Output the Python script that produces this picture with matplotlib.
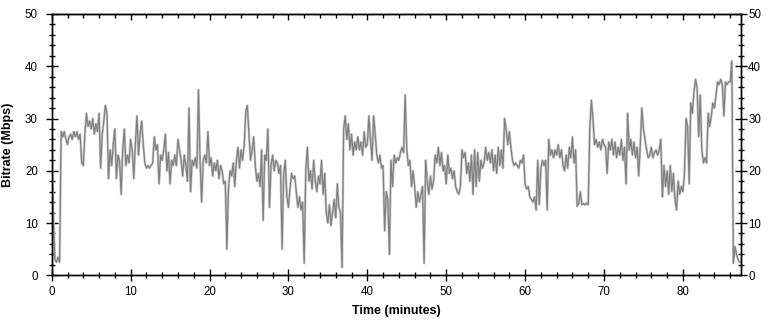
import numpy as np
import matplotlib
matplotlib.use("Agg")
import matplotlib.pyplot as plt
from matplotlib.ticker import MultipleLocator

plt.rcParams['font.family'] = ['Liberation Sans', 'DejaVu Sans']

# bitrate samples (Mbps), one every 0.2 minutes
step = 0.2
bitrate_0_19 = [
    26, 12, 3, 2.5, 3.5,  2.5, 27.5, 26.5, 27.5, 26,
    25, 26.5, 27, 26, 27.5,  26.5, 27.5, 26, 27, 21.5,
    21, 27, 31, 28.5, 29.5,  28, 30, 27, 29, 27.5,
    31, 20.5, 27, 29.5, 32.5,  31, 18.5, 24, 21, 25,
    28, 18.5, 23, 22, 15.5,  24, 28, 21, 23, 21.5,
    26, 24, 18.5, 25, 30.5,  23, 27, 29.5, 25, 21.5,
    20.5, 21, 20.5, 21, 21.5,  26.5, 24, 25, 17.5, 23,
    22, 24, 27, 20, 23.5,  17.5, 22, 21, 23, 21,
    26, 24, 22, 19, 23,  21, 18, 32, 16, 22,
    21, 22.5, 20.5, 35.5, 22,  14, 22, 23, 21.5, 27.5,
]
bitrate_20_39 = [
    21, 22.5, 19, 21.5, 20,  22, 18.5, 21, 20, 17.5,
    18, 5, 16.5, 20, 19,  21.5, 17, 22, 24.5, 20.5,
    24, 22, 25, 31.5, 32.5,  27, 22, 24, 26.5, 21,
    18, 19.5, 17, 24, 10.5,  23, 22, 28, 13, 21,
    23, 20, 22, 21.5, 19.5,  21, 5, 19.5, 22, 15,
    13, 16.5, 19.5, 18.5, 19,  16, 13, 15, 12.5, 14,
    2.3, 20, 24.5, 18, 20,  16.5, 22, 18, 16, 19,
    17.5, 22, 15.5, 19.5, 12,  10, 13.5, 9.5, 12, 14.5,
    11, 17.5, 13, 12, 1.5,  28, 30.5, 26, 29, 24,
    27, 23, 25.5, 24, 26.5,  24, 25.5, 23, 27.5, 24.5,
]
bitrate_40_59 = [
    25, 30.5, 26, 22, 30.5,  27, 23, 21.5, 23, 20.5,
    21, 8.5, 16, 14.5, 4,  22, 17, 23, 21.5, 22.5,
    22, 23.5, 24.5, 23.5, 34.5,  24, 21, 22, 17, 20,
    17, 13, 16, 14, 15.5,  17, 2.3, 22, 18, 15.5,
    19, 16.5, 18, 23, 21.5,  24.5, 21, 23.5, 20, 21,
    17.5, 23, 19.5, 20.5, 18.5,  20, 17, 16, 15.5, 17,
    24, 22.5, 23.5, 19.5, 21.5,  18, 23, 15.5, 24, 17,
    23.5, 18, 22, 20.5, 21.5,  24.5, 22, 23.5, 21.5, 24,
    20, 23, 19.5, 24.5, 21,  24, 20.5, 30, 28, 25,
    27.5, 24.5, 22, 21, 21.5,  21, 20.5, 22, 21.5, 23,
]
bitrate_60_end = [
    17.5, 16.5, 17, 15, 14.5,  14, 15, 12.5, 22, 13.5,
    20.5, 22, 21, 22, 12.5,  26, 23, 24, 22.5, 24,
    23, 25, 22.5, 24, 21,  20, 23, 20.5, 24.5, 22.5,
    26.5, 21.5, 24, 13.2, 13.7,  16, 13.5, 13.7, 13.5, 13.8,
    13.5, 28, 33.5, 30, 25,  26, 24.5, 25.5, 24, 26,
    25, 24.5, 19.5, 25.5, 24,  26, 23, 25.5, 22.5, 24.5,
    23, 26, 22, 24.5, 17.5,  31, 24, 26, 23, 25.5,
    22.5, 24.5, 19, 25, 32,  28, 26, 24, 22.5, 23,
    24.5, 22.5, 23.5, 24, 23,  24, 26, 15, 21, 17,
    20, 15.5, 21, 16, 19.5,  14.5, 12.5, 18, 15.5, 17,
    16, 19.5, 30, 28.5, 17.5,  33, 31, 35, 37.5, 36,
    26.5, 34.5, 24, 21.5, 22.5,  21.5, 31, 28.5, 30.5, 33,
    32, 34.5, 37, 36.5, 37.5,  36.5, 30.5, 37, 36.5, 37,
    37, 41, 2.3, 5.5, 4,  3, 2.5,
]

bitrate = np.array(bitrate_0_19 + bitrate_20_39 + bitrate_40_59 + bitrate_60_end)
minutes = np.arange(len(bitrate)) * step

fig = plt.figure(figsize=(7.72, 3.21), dpi=100)
ax = fig.add_axes([0.067, 0.1424, 0.8932, 0.814])

ax.plot(minutes, bitrate, color='#cccccc', lw=1.8)
ax.plot(minutes, bitrate, color='#808080', lw=0.9)

ax.set_xlim(0, 87.4)
ax.set_ylim(0, 50)
ax.xaxis.set_major_locator(MultipleLocator(10))
ax.xaxis.set_minor_locator(MultipleLocator(2))
ax.yaxis.set_major_locator(MultipleLocator(10))
ax.yaxis.set_minor_locator(MultipleLocator(2))

ax.tick_params(which='major', direction='inout', length=8, width=1, labelsize=8.3, pad=6)
ax.tick_params(which='minor', direction='inout', length=4, width=1)
ax.tick_params(axis='x', which='both', top=False, pad=4)

# top axis: short inward ticks only
top = ax.secondary_xaxis('top')
top.xaxis.set_major_locator(MultipleLocator(10))
top.xaxis.set_minor_locator(MultipleLocator(2))
top.tick_params(which='major', direction='in', length=4, width=1, labeltop=False)
top.tick_params(which='minor', direction='in', length=3, width=1)

ax2 = ax.twinx()
ax2.set_ylim(0, 50)
ax2.yaxis.set_major_locator(MultipleLocator(10))
ax2.yaxis.set_minor_locator(MultipleLocator(2))
ax2.tick_params(which='major', direction='inout', length=8, width=1, labelsize=8.3, pad=1)
ax2.tick_params(which='minor', direction='inout', length=4, width=1)

for a in (ax, ax2):
    for s in a.spines.values():
        s.set_linewidth(1)
        s.set_color('black')

ax.set_xlabel('Time (minutes)', fontsize=9, fontweight='bold', labelpad=5)
ax.set_ylabel('Bitrate (Mbps)', fontsize=9, fontweight='bold', labelpad=8)

fig.savefig('out.png', dpi=100)
